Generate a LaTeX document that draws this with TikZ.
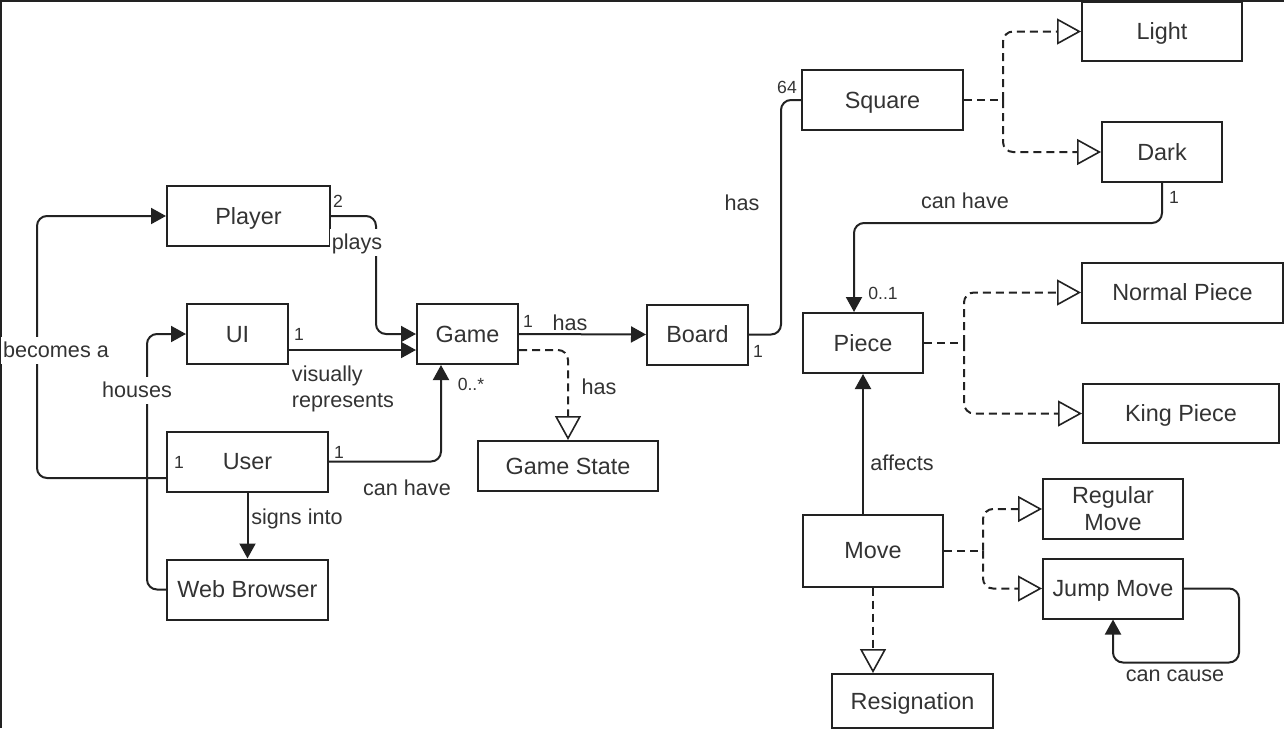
\documentclass[tikz,border=0pt]{standalone}
\usepackage{fontspec}
\setmainfont{Liberation Sans}
\usepackage{xcolor}
\usepackage{tikz}
\usetikzlibrary{positioning, arrows.meta}

\definecolor{ink}{HTML}{222222}
\definecolor{txt}{HTML}{333333}

\begin{document}
\begin{tikzpicture}[x=0.5pt,y=-0.5pt,
    box/.style={draw=ink,line width=1pt,inner sep=0pt,text=txt,
        font=\fontsize{11.7}{13.5}\selectfont,minimum height=30pt,
        text height=10.5pt,text depth=2.5pt},
    lbl/.style={text=txt,inner sep=1pt,font=\fontsize{10.8}{13}\selectfont,
        text height=9.5pt,text depth=2pt},
    num/.style={text=txt,inner sep=0pt,font=\fontsize{8.8}{10}\selectfont},
    conn/.style={draw=ink,line width=1pt,rounded corners=5pt},
    assoc/.style={conn,-{Triangle[length=7.5pt,width=8pt]}},
    real/.style={conn,dash pattern=on 4pt off 2.5pt,
        -{Triangle[open,length=12pt,width=13pt,fill=white,line width=0.8pt]}},
    split/.style={conn,dash pattern=on 4pt off 2.5pt}]
    \useasboundingbox (0,0) rectangle (1284,728);
    \draw[ink,line width=1pt] (1,728) -- (1,1) -- (1284,1);

    % classes
    \node[box,minimum width=81.5pt] (player) at (248.5,216) {Player};
    \node[box,minimum width=50.5pt] (ui) at (237.5,334) {UI};
    \node[box,minimum width=80.5pt] (user) at (247.5,461.5) {User};
    \node[box,minimum width=80.5pt] (browser) at (247.5,589.5) {Web Browser};
    \node[box,minimum width=50.5pt] (game) at (467.5,334) {Game};
    \node[box,minimum width=90pt,minimum height=25pt] (gamestate) at (568,466) {Game State};
    \node[box,minimum width=50.5pt] (board) at (697.5,334.5) {Board};
    \node[box,minimum width=80.5pt] (square) at (882.5,100) {Square};
    \node[box,minimum width=80pt,minimum height=29.5pt] (light) at (1162,31.5) {Light};
    \node[box,minimum width=60pt] (dark) at (1162,152) {Dark};
    \node[box,minimum width=60pt] (piece) at (863,343) {Piece};
    \node[box,minimum width=100.5pt] (normal) at (1182.5,292.5) {Normal Piece};
    \node[box,minimum width=98pt,minimum height=29.5pt] (king) at (1181,413.5) {King Piece};
    \node[box,minimum width=70pt,minimum height=36pt] (move) at (873,550.5) {Move};
    \node[box,minimum width=70pt,align=center,text height=,text depth=] (regular) at (1113,509) {Regular\\Move};
    \node[box,minimum width=70pt] (jump) at (1113,588.5) {Jump Move};
    \node[box,minimum width=80.5pt,minimum height=27pt] (resign) at (912.5,701) {Resignation};

    % associations
    \draw[assoc] ([yshift=-8.25pt]user.west) -- ++(-129,0) |- (player.west);
    \draw[assoc] (browser.west) -- ++(-19,0) |- (ui.west);
    \draw[assoc] (player.east) -- ++(45,0) |- (game.west);
    \draw[assoc] ([yshift=-8pt]ui.east) -- ([yshift=-8pt]game.west);
    \draw[assoc] (user.east) -| ([xshift=-13.25pt]game.south);
    \draw[assoc] (user.south) -- (browser.north);
    \draw[assoc] (game.east) -- (board.west);
    \draw[real] ([yshift=-8pt]game.east) -| (gamestate.north);
    \draw[conn] (board.east) -- ++(32,0) |- (square.west);
    \draw[assoc] (dark.south) -- ++(0,40) -| ([xshift=-4.5pt]piece.north);
    \draw[assoc] ([xshift=-5pt]move.north) -- (piece.south);
    \draw[assoc] (jump.east) -- ++(55,0) -- ++(0,74) -| (jump.south);

    % subclasses
    \draw[split] (square.east) -- ++(39,0) coordinate (sqfork);
    \draw[real] (sqfork) |- (light.west);
    \draw[real] (sqfork) |- (dark.west);
    \draw[split] (piece.east) -- ++(40,0) coordinate (pcfork);
    \draw[real] (pcfork) |- (normal.west);
    \draw[real] (pcfork) |- (king.west);
    \draw[split] (move.east) -- ++(39,0) coordinate (mvfork);
    \draw[real] (mvfork) |- (regular.west);
    \draw[real] (mvfork) |- (jump.west);
    \draw[real] (move.south) -- (move.south |- resign.north);

    % labels
    \node[lbl,fill=white] (lbecomes) at (56,350) {becomes a};
    \node[lbl,fill=white] (lhouses) at (137,390) {houses};
    \node[lbl,fill=white] (lplays) at (357,242) {plays};
    \node[lbl,align=left,text height=,text depth=] (lvisual) at (343,389) {visually\\represents};
    \node[lbl] (lcanhave) at (407,488) {can have};
    \node[lbl] (lsigns) at (297,517) {signs into};
    \node[lbl] (lhasboard) at (570,323) {has};
    \node[lbl] (lhasstate) at (599,387) {has};
    \node[lbl] (lhassquare) at (742,203) {has};
    \node[lbl] (lcanhold) at (965,201) {can have};
    \node[lbl] (laffects) at (902,463) {affects};
    \node[lbl] (lcause) at (1175,674) {can cause};

    % multiplicities
    \node[num] (nplayer) at (338,201) {2};
    \node[num] (nui) at (299,334) {1};
    \node[num] (nuserl) at (179,462) {1};
    \node[num] (nuserr) at (339,452) {1};
    \node[num] (ngame) at (471,384) {0..*};
    \node[num] (ngameb) at (528,321) {1};
    \node[num] (nboard) at (758,351) {1};
    \node[num] (nsquare) at (787,87) {64};
    \node[num] (ndark) at (1174,197) {1};
    \node[num] (npiece) at (883,293) {0..1};
\end{tikzpicture}
\end{document}
